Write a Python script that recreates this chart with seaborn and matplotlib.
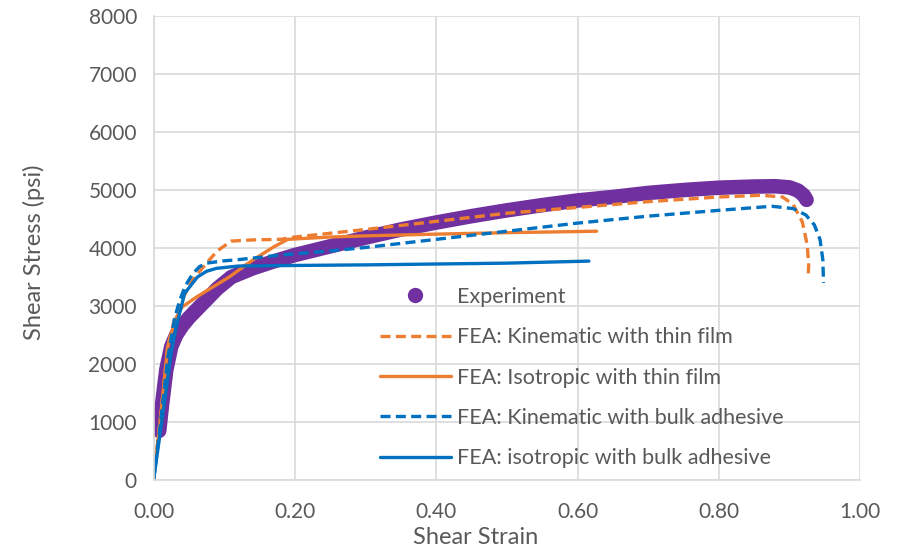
import numpy as np
import pandas as pd
import matplotlib
matplotlib.use('Agg')
import matplotlib.pyplot as plt
from matplotlib.lines import Line2D
import seaborn as sns

# experiment
exp_strain = [0.008, 0.012, 0.018, 0.025, 0.032, 0.04, 0.05, 0.07, 0.09, 0.11, 0.14, 0.17,
              0.2, 0.25, 0.3, 0.35, 0.4, 0.45, 0.5, 0.55, 0.6, 0.65, 0.7, 0.75, 0.8, 0.85,
              0.88, 0.9, 0.912, 0.92, 0.924]
exp_stress = [850, 1300, 1900, 2300, 2500, 2650, 2800, 3050, 3300, 3500, 3650, 3770,
              3880, 4030, 4180, 4320, 4440, 4550, 4650, 4740, 4820, 4880, 4950, 5000, 5040, 5060,
              5065, 5045, 4990, 4910, 4830]

# FEA: kinematic with thin film
kin_thin_strain = [0, 0.01, 0.02, 0.03, 0.04, 0.055, 0.075, 0.09, 0.11, 0.14, 0.18, 0.2, 0.3, 0.4,
                   0.5, 0.6, 0.7, 0.8, 0.86, 0.89, 0.905, 0.918, 0.925, 0.927, 0.926]
kin_thin_stress = [0, 1100, 2300, 2800, 3100, 3450, 3740, 3950, 4120, 4140, 4150, 4190, 4320, 4460,
                   4600, 4700, 4800, 4880, 4910, 4880, 4750, 4450, 4050, 3700, 3480]

# FEA: isotropic with thin film
iso_thin_strain = [0, 0.01, 0.02, 0.03, 0.04, 0.06, 0.08, 0.107, 0.14, 0.17, 0.19, 0.25, 0.3, 0.4, 0.5, 0.627]
iso_thin_stress = [0, 1100, 2300, 2750, 2980, 3150, 3300, 3500, 3790, 4020, 4150, 4190, 4210, 4240, 4265, 4290]

# FEA: kinematic with bulk adhesive
kin_bulk_strain = [0, 0.01, 0.02, 0.03, 0.037, 0.045, 0.055, 0.065, 0.075, 0.1, 0.12, 0.18, 0.25, 0.3,
                   0.4, 0.5, 0.6, 0.7, 0.8, 0.875, 0.905, 0.923, 0.935, 0.943, 0.947, 0.948]
kin_bulk_stress = [0, 1000, 2100, 2800, 3100, 3350, 3550, 3680, 3740, 3780, 3800, 3880, 3950, 4010,
                   4150, 4290, 4430, 4550, 4650, 4720, 4680, 4570, 4400, 4150, 3800, 3400]

# FEA: isotropic with bulk adhesive
iso_bulk_strain = [0, 0.01, 0.02, 0.025, 0.032, 0.044, 0.062, 0.075, 0.089, 0.12, 0.2, 0.3, 0.4, 0.5, 0.616]
iso_bulk_stress = [0, 870, 1750, 2190, 2640, 3220, 3500, 3600, 3650, 3690, 3700, 3710, 3725, 3740, 3775]

labels = ['Experiment', 'FEA: Kinematic with thin film', 'FEA: Isotropic with thin film',
          'FEA: Kinematic with bulk adhesive', 'FEA: isotropic with bulk adhesive']

purple = '#7030A0'
orange = '#ED7D31'
blue = '#0070C0'
grey = '#595959'

sns.set_style('white')
plt.rcParams['font.family'] = ['Lato', 'DejaVu Sans']

fig = plt.figure(figsize=(8.98, 5.5), dpi=100)
ax = fig.add_axes([0.171, 0.127, 0.787, 0.844])

sns.lineplot(x=exp_strain, y=exp_stress, sort=False, estimator=None, ax=ax,
             color=purple, linewidth=10.5, solid_capstyle='round', solid_joinstyle='round')
sns.lineplot(x=kin_thin_strain, y=kin_thin_stress, sort=False, estimator=None, ax=ax,
             color=orange, linewidth=2.4, linestyle=(0, (3, 1.6)))
sns.lineplot(x=iso_thin_strain, y=iso_thin_stress, sort=False, estimator=None, ax=ax,
             color=orange, linewidth=2.4)
sns.lineplot(x=kin_bulk_strain, y=kin_bulk_stress, sort=False, estimator=None, ax=ax,
             color=blue, linewidth=2.4, linestyle=(0, (3, 1.6)))
sns.lineplot(x=iso_bulk_strain, y=iso_bulk_stress, sort=False, estimator=None, ax=ax,
             color=blue, linewidth=2.4)

ax.set_xlim(0, 1.0)
ax.set_ylim(0, 8000)
ax.set_xticks(np.arange(0, 1.01, 0.2))
ax.set_xticklabels([f'{v:.2f}' for v in np.arange(0, 1.01, 0.2)])
ax.set_yticks(np.arange(0, 8001, 1000))
ax.grid(True, color='#D9D9D9', linewidth=1.2)
ax.set_axisbelow(True)
for s in ['top', 'right']:
    ax.spines[s].set_visible(False)
for s in ['left', 'bottom']:
    ax.spines[s].set_color('#D9D9D9')
    ax.spines[s].set_linewidth(1.2)
ax.tick_params(axis='both', length=0, labelsize=15, labelcolor=grey)
ax.tick_params(axis='x', pad=16)
ax.tick_params(axis='y', pad=12)

ax.set_xlabel('Shear Strain', fontsize=17, color=grey)
ax.set_ylabel('Shear Stress (psi)', fontsize=17, color=grey)
ax.xaxis.set_label_coords(0.456, -0.10)
ax.yaxis.set_label_coords(-0.153, 0.49)

handles = [
    Line2D([], [], color=purple, marker='o', markersize=10, linestyle='none'),
    Line2D([], [], color=orange, linewidth=2.4, linestyle=(0, (3, 1.6))),
    Line2D([], [], color=orange, linewidth=2.4),
    Line2D([], [], color=blue, linewidth=2.4, linestyle=(0, (3, 1.6))),
    Line2D([], [], color=blue, linewidth=2.4),
]
leg = ax.legend(handles, labels, loc='upper left', bbox_to_anchor=(0.305, 0.44),
                frameon=False, fontsize=15.5, handlelength=3.3, handletextpad=0.3,
                labelspacing=0.95, borderpad=0)
for t in leg.get_texts():
    t.set_color(grey)

fig.savefig('out.png', dpi=100)
